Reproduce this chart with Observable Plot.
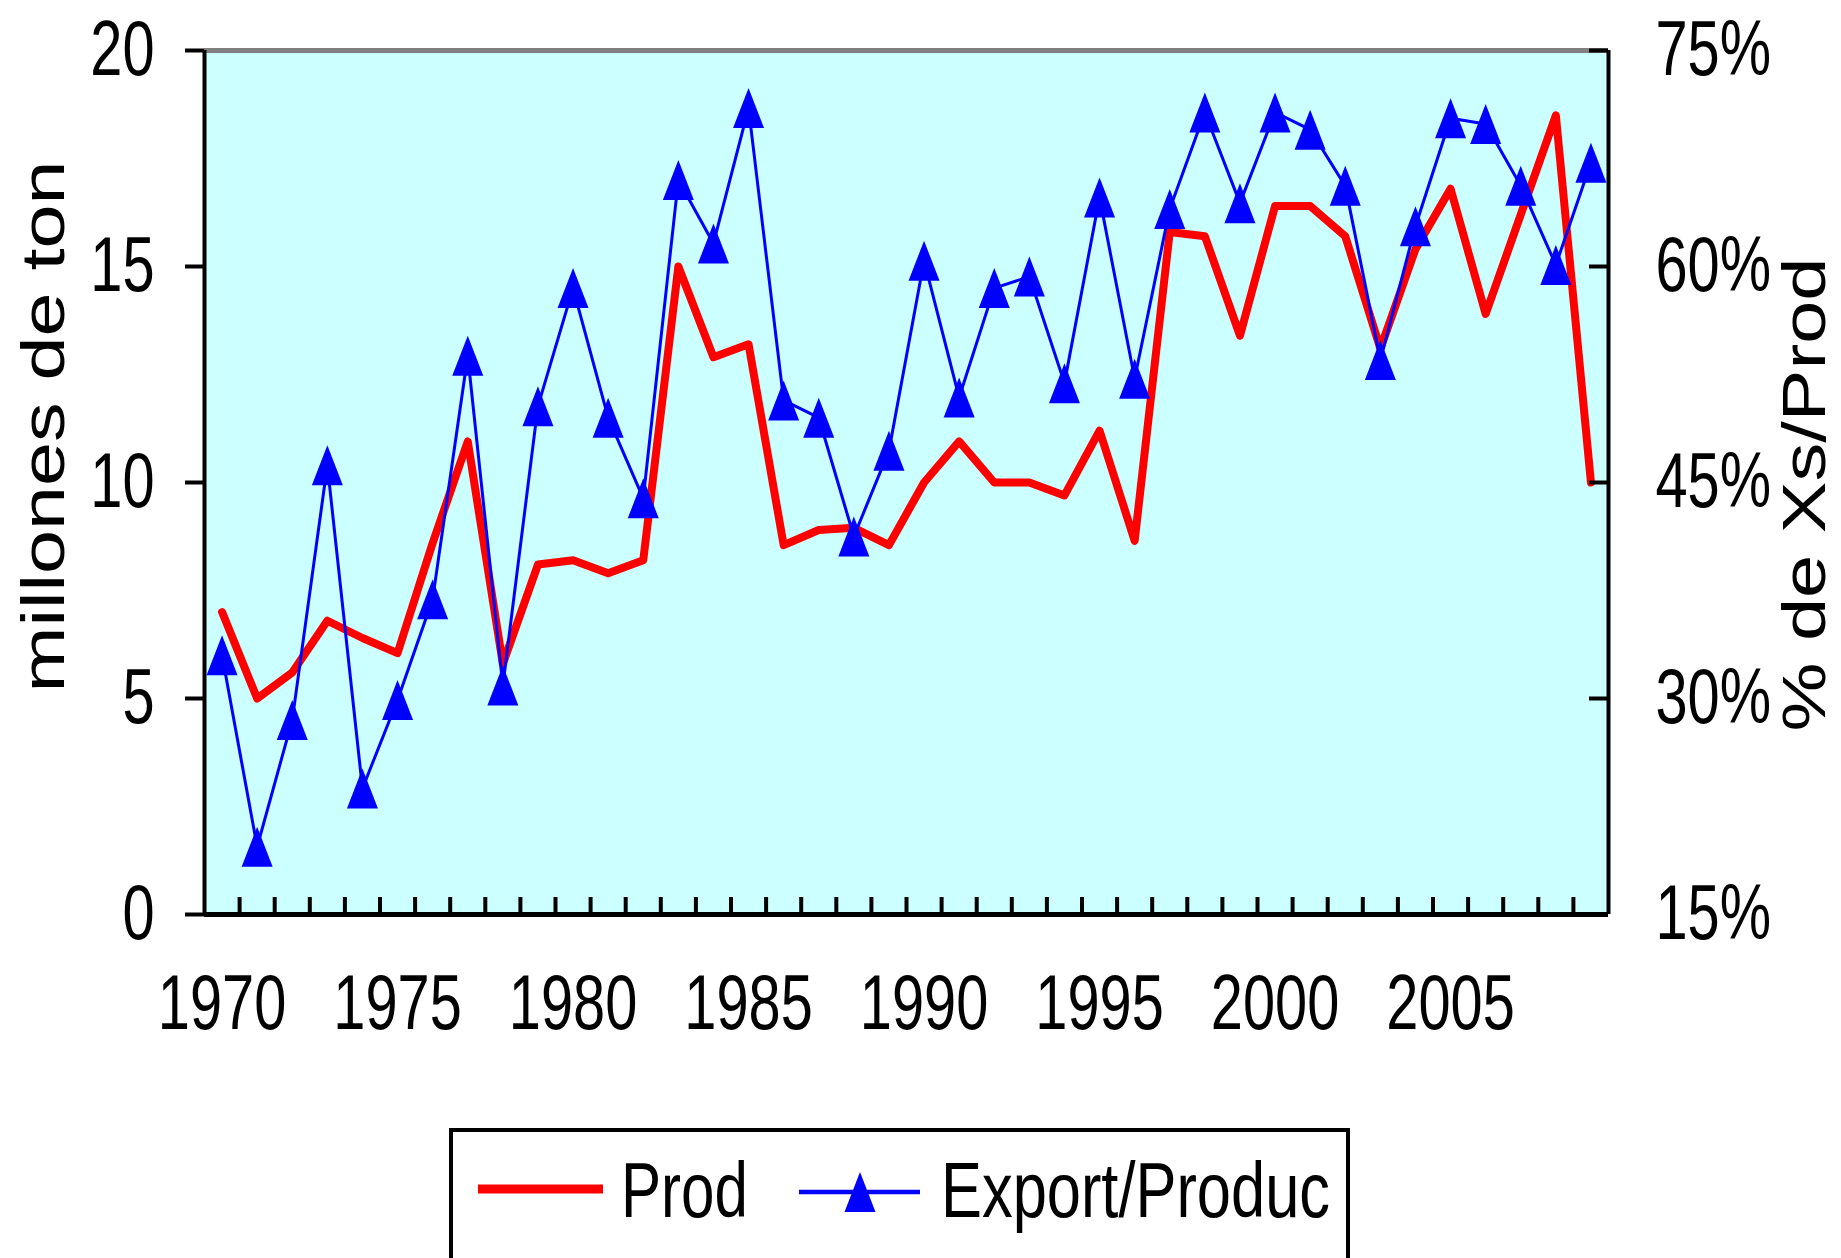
<!DOCTYPE html>
<html>
<head>
<meta charset="utf-8">
<script src="https://cdn.jsdelivr.net/npm/d3@7"></script>
<script src="https://cdn.jsdelivr.net/npm/@observablehq/plot@0.6"></script>
<style>
  html, body { margin: 0; padding: 0; background: #fff; }
  #wrap { position: relative; width: 1841px; height: 1258px; overflow: hidden; font-family: 'Liberation Sans', Arial, sans-serif; }
  #legend { position: absolute; left: 449px; top: 1128px; }
</style>
</head>
<body>
<div id="wrap">
  <div id="chart"></div>
  <div id="legend"></div>
</div>
<script>
// ---- data ----
const years = [1970, 1971, 1972, 1973, 1974, 1975, 1976, 1977, 1978, 1979,
               1980, 1981, 1982, 1983, 1984, 1985, 1986, 1987, 1988, 1989,
               1990, 1991, 1992, 1993, 1994, 1995, 1996, 1997, 1998, 1999,
               2000, 2001, 2002, 2003, 2004, 2005, 2006, 2007, 2008, 2009];
// Prod (millones de ton), left axis
const prod = [7.0, 5.0, 5.6, 6.8, 6.4, 6.05, 8.6, 10.95, 5.8, 8.1,
              8.2, 7.9, 8.2, 15.0, 12.9, 13.2, 8.55, 8.9, 8.95, 8.55,
              10.0, 10.95, 10.0, 10.0, 9.7, 11.2, 8.65, 15.8, 15.7, 13.4,
              16.4, 16.4, 15.7, 13.1, 15.4, 16.8, 13.9, 16.2, 18.5, 10.0];
// Export/Produc (% de Xs/Prod), right axis
const exportShare = [33.0, 19.7, 28.5, 46.2, 23.75, 29.9, 36.9, 53.8, 30.9, 50.3,
                     58.5, 49.5, 43.9, 66.0, 61.6, 71.0, 50.7, 49.5, 41.25, 47.2,
                     60.4, 50.9, 58.5, 59.3, 51.9, 64.8, 52.2, 64.0, 70.7, 64.4,
                     70.7, 69.5, 65.6, 53.5, 62.8, 70.3, 69.9, 65.6, 60.1, 67.2];
const leftTicks = [0, 5, 10, 15, 20];
const rightTickLabels = ["15%", "30%", "45%", "60%", "75%"];
const rightDomain = [15, 75];
const yearLabels = [1970, 1975, 1980, 1985, 1990, 1995, 2000, 2005];
const seriesNames = ["Prod", "Export/Produc"];
const leftTitle = "millones de ton";
const rightTitle = "% de Xs/Prod";

const data = years.map((year, i) => ({year, prod: prod[i], share: exportShare[i]}));

// map the right-axis percentage onto the left y scale (dual axis)
const leftMax = leftTicks[leftTicks.length - 1];
const toLeft = p => (p - rightDomain[0]) / (rightDomain[1] - rightDomain[0]) * leftMax;

const tallTriangle = {
  draw(ctx) {
    ctx.moveTo(0, -20);
    ctx.lineTo(15.5, 20);
    ctx.lineTo(-15.5, 20);
    ctx.closePath();
  }
};

const W = 1841, H = 1110, mL = 204, mR = 233, mT = 50, mB = 196;
const frameW = W - mL - mR, frameH = H - mT - mB;

const svg = Plot.plot({
  width: W,
  height: H,
  marginLeft: mL,
  marginRight: mR,
  marginTop: mT,
  marginBottom: mB,
  style: {fontFamily: "'Liberation Sans', Arial, sans-serif", background: "white", color: "black", overflow: "visible"},
  x: {domain: [years[0] - 0.5, years[years.length - 1] + 0.5], axis: null},
  y: {domain: [0, leftMax], axis: null},
  marks: [
    Plot.frame({fill: "#CCFFFF", stroke: null}),
    Plot.line(data, {x: "year", y: "prod", stroke: "#FF0000", strokeWidth: 8}),
    Plot.line(data, {x: "year", y: d => toLeft(d.share), stroke: "#0000FF", strokeWidth: 3}),
    Plot.dot(data, {x: "year", y: d => toLeft(d.share), symbol: tallTriangle, fill: "#0000FF", stroke: "none", r: 12}),
    // frame lines
    Plot.ruleY([leftMax], {stroke: "#808080", strokeWidth: 5}),
    Plot.ruleX([years[0] - 0.5], {stroke: "black", strokeWidth: 4}),
    Plot.ruleX([years[years.length - 1] + 0.5], {stroke: "black", strokeWidth: 4}),
    Plot.ruleY([0], {stroke: "black", strokeWidth: 5}),
    // category tick marks between years (inside)
    Plot.tickX(years.slice(1), {x: d => d - 0.5, insetTop: frameH - 17, stroke: "black", strokeWidth: 4}),
    // right axis inside ticks
    Plot.tickY(leftTicks, {y: d => d, insetLeft: frameW - 19, stroke: "black", strokeWidth: 4}),
    // left axis
    Plot.axisY({anchor: "left", ticks: leftTicks, tickSize: 19, tickPadding: 31, strokeWidth: 4,
                fontSize: 78, tickFormat: d => String(d), label: null}),
    // right axis labels
    Plot.axisY({anchor: "right", ticks: leftTicks, tickSize: 0, tickPadding: 47,
                fontSize: 78, tickFormat: d => rightTickLabels[leftTicks.indexOf(d)], label: null}),
    // x labels
    Plot.text(yearLabels, {x: d => d, text: d => String(d), frameAnchor: "bottom", dy: 114, fontSize: 78, fill: "black"}),
    // axis titles
    Plot.text([leftTitle], {text: d => d, frameAnchor: "left", textAnchor: "middle", lineAnchor: "middle",
                            rotate: -90, dx: -160.5, dy: -56, fontSize: 61, fill: "black"}),
    Plot.text([rightTitle], {text: d => d, frameAnchor: "right", textAnchor: "middle", lineAnchor: "middle",
                             rotate: -90, dx: 197, dy: 12, fontSize: 61, fill: "black"})
  ]
});
document.getElementById("chart").append(svg);

// squeeze glyphs to match the tall, narrow lettering of the reference
d3.select(svg).selectAll("text").each(function() {
  const t = this.textContent;
  if (t === leftTitle) this.setAttribute("textLength", 532);
  else if (t === rightTitle) this.setAttribute("textLength", 474);
  else this.setAttribute("textLength", this.getComputedTextLength() * 0.74);
  this.setAttribute("lengthAdjust", "spacingAndGlyphs");
});

// legend
const lg = d3.select("#legend").append("svg")
  .attr("width", 1000).attr("height", 132)
  .style("overflow", "visible")
  .style("font-family", "'Liberation Sans', Arial, sans-serif");
lg.append("rect").attr("x", 2).attr("y", 2).attr("width", 897).attr("height", 130)
  .attr("fill", "white").attr("stroke", "black").attr("stroke-width", 4);
lg.append("line").attr("x1", 29).attr("x2", 154).attr("y1", 61).attr("y2", 61)
  .attr("stroke", "#FF0000").attr("stroke-width", 9);
lg.append("text").attr("x", 172).attr("y", 89).attr("font-size", 78)
  .attr("textLength", 127).attr("lengthAdjust", "spacingAndGlyphs").text(seriesNames[0]);
lg.append("line").attr("x1", 350).attr("x2", 471).attr("y1", 64).attr("y2", 64)
  .attr("stroke", "#0000FF").attr("stroke-width", 4.5);
lg.append("path").attr("d", "M411,44L426.5,84L395.5,84Z").attr("fill", "#0000FF");
lg.append("text").attr("x", 492).attr("y", 89).attr("font-size", 78)
  .attr("textLength", 389).attr("lengthAdjust", "spacingAndGlyphs").text(seriesNames[1]);
</script>
</body>
</html>
